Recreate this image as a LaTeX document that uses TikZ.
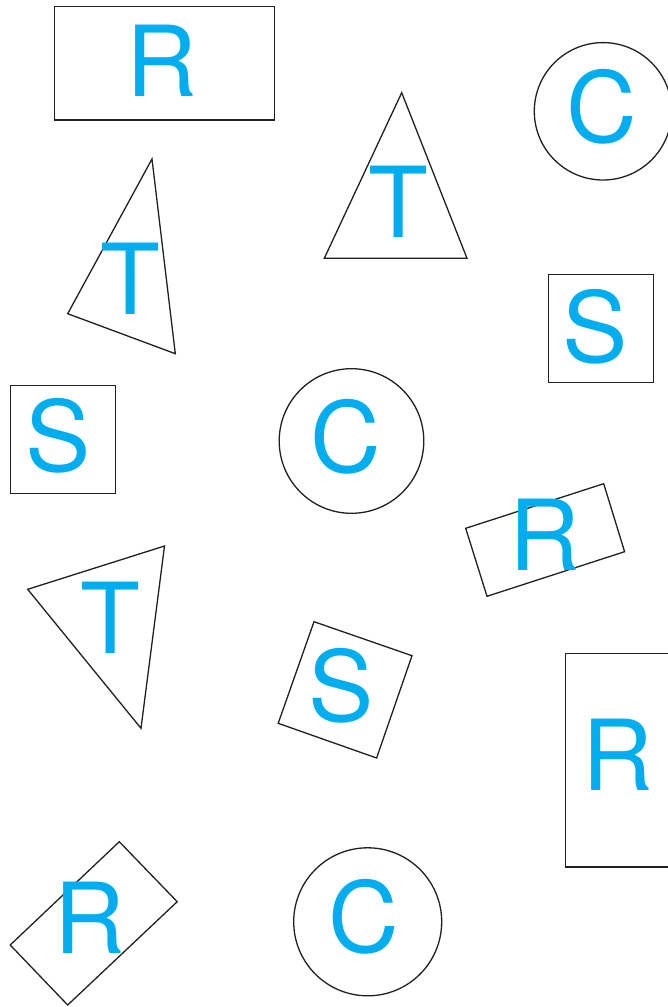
\documentclass[tikz,border=0pt]{standalone}
\usepackage{fontspec}
\setmainfont{TeX Gyre Heros}
\definecolor{lettercyan}{HTML}{00AEEF}
\definecolor{edgegrey}{HTML}{231F20}
\begin{document}
\begin{tikzpicture}[x=1pt,y=-1pt,
  shapeline/.style={draw=edgegrey,line width=1.3pt,line join=miter},
  letter/.style={anchor=base,inner sep=0pt,text=lettercyan,font=\fontsize{98}{98}\selectfont}]
\useasboundingbox (0,0) rectangle (668,1007);
% shapes
\draw[shapeline] (54.7,6.3) rectangle (274.7,120);
\draw[shapeline] (603,111.3) circle (68.7pt);
\draw[shapeline] (401.7,92.7) -- (324.3,258.3) -- (467,258.3) -- cycle;
\draw[shapeline] (152,159) -- (67.7,313.7) -- (175.3,353.7) -- cycle;
\draw[shapeline] (548.7,274.7) rectangle (653.7,382.7);
\draw[shapeline] (10.7,385.7) rectangle (115.5,493.5);
\draw[shapeline] (351.5,441) circle (72.3pt);
\draw[shapeline] (465.7,528.3) -- (603.7,483.7) -- (624.6,551.7) -- (487,596.3) -- cycle;
\draw[shapeline] (27.7,589.3) -- (164.5,546) -- (141,728.3) -- cycle;
\draw[shapeline] (314,621.7) -- (412,655.7) -- (376.6,758) -- (278.2,723.3) -- cycle;
\draw[shapeline] (565.4,653.3) rectangle (690,867);
\draw[shapeline] (119.3,841.7) -- (177.2,901.7) -- (67.7,1005) -- (10.2,945) -- cycle;
\draw[shapeline] (367.7,921.8) circle (74pt);
% letters
\node[letter] (r1) at (162,96) {R};
\node[letter] (c1) at (602,142) {C};
\node[letter] (t1) at (398,237) {T};
\node[letter] (t2) at (130,314) {T};
\node[letter] (s1) at (595,362) {S};
\node[letter] (s2) at (58,471) {S};
\node[letter] (c2) at (346,472) {C};
\node[letter] (r2) at (545,570) {R};
\node[letter] (t3) at (110,653) {T};
\node[letter] (s3) at (341.5,721) {S};
\node[letter] (r3) at (618,790) {R};
\node[letter] (r4) at (90,953) {R};
\node[letter] (c3) at (364,952) {C};
\end{tikzpicture}
\end{document}
